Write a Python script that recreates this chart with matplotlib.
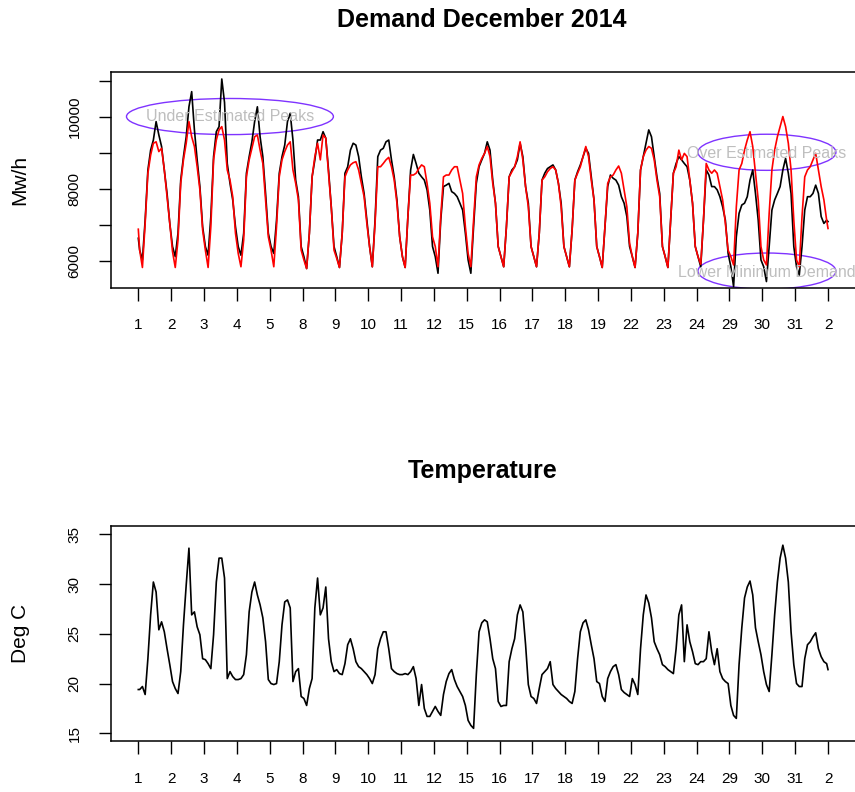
import numpy as np
import matplotlib
matplotlib.use("Agg")
import matplotlib.pyplot as plt
from matplotlib.patches import Ellipse

plt.rcParams['font.family'] = ['Liberation Sans', 'DejaVu Sans']

# trading days shown on the x axis (last tick = 2 Jan, end of the series)
day_labels = ['1', '2', '3', '4', '5', '8', '9', '10', '11', '12', '15', '16',
              '17', '18', '19', '22', '23', '24', '29', '30', '31', '2']

# values read every 2 hours (01:00, 03:00 ... 23:00) for each day
demand_start, demand_end = 6640, 7100
demand_actual = [
    [6310, 6040, 7140, 8530, 9080, 9360, 9870, 9500, 9180, 8530, 7880, 7050],
    [6410, 6130, 6780, 8250, 8900, 9450, 10280, 10700, 9640, 8810, 8070, 6960],
    [6410, 6170, 7240, 8900, 9590, 9730, 11050, 10400, 8710, 8160, 7700, 6960],
    [6410, 6170, 6780, 8440, 8900, 9310, 9870, 10280, 9450, 8900, 7880, 6780],
    [6410, 6220, 7140, 8440, 8900, 9220, 9870, 10100, 9360, 8250, 7790, 6410],
    [6130, 5800, 6780, 8340, 8810, 9360, 9360, 9590, 9410, 8530, 7510, 6410],
    [6130, 5830, 6780, 8440, 8620, 9080, 9270, 9220, 8900, 8340, 7880, 7140],
    [6410, 5850, 7140, 8900, 9080, 9130, 9310, 9360, 8810, 8340, 7700, 6680],
    [6130, 5830, 7240, 8530, 8960, 8710, 8440, 8340, 8250, 7980, 7420, 6410],
    [6130, 5670, 7140, 8070, 8110, 8160, 7930, 7880, 7790, 7610, 7420, 6780],
    [6040, 5670, 6960, 8160, 8620, 8810, 8990, 9310, 9080, 8250, 7610, 6410],
    [6130, 5850, 6960, 8340, 8530, 8620, 8810, 9270, 8900, 8070, 7610, 6410],
    [6130, 5850, 6780, 8250, 8440, 8570, 8620, 8670, 8530, 8160, 7610, 6410],
    [6130, 5850, 6870, 8250, 8480, 8670, 8900, 9130, 8990, 8340, 7700, 6410],
    [6130, 5830, 6960, 8070, 8390, 8300, 8250, 8110, 7790, 7610, 7240, 6410],
    [6130, 5830, 6780, 8530, 8900, 9270, 9640, 9450, 8900, 8340, 7880, 6410],
    [6130, 5830, 7140, 8440, 8710, 8900, 8810, 8710, 8620, 8250, 7610, 6410],
    [6130, 5850, 7140, 8530, 8390, 8070, 8070, 7980, 7790, 7510, 7140, 6220],
    [5850, 5300, 6680, 7330, 7560, 7610, 7790, 8250, 8530, 7880, 7140, 6040],
    [5850, 5440, 6410, 7420, 7700, 7880, 8070, 8530, 8850, 8440, 7880, 6410],
    [5850, 5620, 6410, 7420, 7790, 7790, 7880, 8110, 7880, 7240, 7050, 7140],
]

forecast_start, forecast_end = 6890, 6910
demand_forecast = [
    [6310, 5830, 7050, 8440, 8940, 9270, 9310, 9040, 9130, 8530, 7790, 7050],
    [6270, 5830, 6590, 8160, 8810, 9270, 9870, 9450, 9180, 8620, 7980, 6870],
    [6310, 5830, 6960, 8810, 9360, 9640, 9730, 9360, 8530, 8250, 7790, 6780],
    [6220, 5850, 6590, 8340, 8810, 9130, 9450, 9500, 9080, 8710, 7700, 6680],
    [6310, 5850, 6960, 8340, 8810, 9040, 9220, 9310, 8530, 8160, 7700, 6310],
    [6040, 5800, 6780, 8340, 8900, 9270, 8810, 9500, 9410, 8440, 7510, 6310],
    [6080, 5830, 6780, 8340, 8530, 8670, 8730, 8760, 8530, 8160, 7790, 7050],
    [6410, 5850, 7050, 8620, 8620, 8710, 8810, 8880, 8620, 8250, 7610, 6680],
    [6130, 5830, 7240, 8390, 8390, 8440, 8570, 8670, 8620, 8160, 7610, 6680],
    [6410, 5850, 7240, 8340, 8390, 8390, 8530, 8620, 8620, 8250, 7880, 6960],
    [6220, 5850, 7140, 8340, 8670, 8850, 8990, 9180, 8900, 8160, 7610, 6410],
    [6130, 5850, 6960, 8340, 8480, 8620, 8900, 9310, 8810, 8070, 7510, 6410],
    [6130, 5850, 6780, 8250, 8340, 8480, 8570, 8620, 8530, 8160, 7510, 6410],
    [6130, 5850, 6870, 8250, 8440, 8620, 8900, 9180, 8900, 8250, 7700, 6410],
    [6130, 5830, 6960, 8160, 8340, 8390, 8530, 8640, 8440, 7980, 7510, 6500],
    [6130, 5830, 6780, 8530, 8900, 9080, 9180, 9130, 8810, 8250, 7790, 6410],
    [6130, 5830, 7140, 8440, 8620, 9080, 8810, 8990, 8900, 8250, 7610, 6410],
    [6130, 5920, 7140, 8710, 8530, 8440, 8530, 8440, 8070, 7700, 7050, 6310],
    [6130, 5900, 7510, 8530, 8710, 9080, 9360, 9590, 9180, 8440, 7700, 6410],
    [6040, 5900, 7330, 8530, 9080, 9450, 9730, 10010, 9730, 9270, 8530, 7140],
    [6040, 5850, 7240, 8340, 8530, 8620, 8810, 8990, 8530, 8070, 7700, 7140],
]

temp_start, temp_end = 19.4, 21.4
temperature = [
    [19.4, 19.7, 18.9, 22.5, 26.9, 30.2, 29.2, 25.4, 26.2, 25.2, 23.5, 21.9],
    [20.2, 19.5, 19.0, 21.2, 25.9, 29.9, 33.6, 26.9, 27.2, 25.7, 24.9, 22.5],
    [22.4, 22.0, 21.5, 24.9, 30.2, 32.6, 32.6, 30.6, 20.5, 21.2, 20.7, 20.4],
    [20.4, 20.5, 20.9, 22.9, 27.2, 29.2, 30.2, 28.9, 27.9, 26.6, 24.2, 20.4],
    [20.0, 19.9, 20.0, 22.2, 25.9, 28.2, 28.4, 27.6, 20.2, 21.2, 21.5, 18.7],
    [18.5, 17.8, 19.5, 20.5, 27.6, 30.6, 26.9, 27.6, 29.7, 24.5, 22.2, 21.2],
    [21.4, 21.0, 20.9, 22.0, 23.9, 24.5, 23.5, 22.2, 21.7, 21.5, 21.2, 20.9],
    [20.5, 20.0, 20.9, 23.5, 24.5, 25.2, 25.2, 23.5, 21.5, 21.2, 21.0, 20.9],
    [20.9, 21.0, 20.9, 21.2, 21.7, 20.5, 17.8, 19.9, 17.5, 16.7, 16.7, 17.2],
    [17.7, 17.2, 16.8, 18.9, 20.2, 21.0, 21.4, 20.4, 19.7, 19.2, 18.7, 17.8],
    [16.3, 15.8, 15.5, 20.9, 25.2, 26.1, 26.4, 26.2, 24.5, 22.5, 21.5, 18.2],
    [17.7, 17.8, 17.8, 22.2, 23.5, 24.5, 26.9, 27.9, 27.2, 23.9, 19.9, 18.7],
    [18.5, 18.0, 19.5, 20.9, 21.2, 21.5, 22.2, 19.9, 19.5, 19.2, 18.9, 18.7],
    [18.5, 18.2, 18.0, 19.2, 22.5, 25.2, 26.1, 26.4, 25.4, 23.9, 22.5, 20.2],
    [20.0, 18.7, 18.2, 20.5, 21.2, 21.7, 21.9, 20.9, 19.4, 19.1, 18.9, 18.7],
    [20.5, 19.9, 18.9, 23.5, 26.9, 28.9, 28.1, 26.6, 24.2, 23.5, 22.9, 21.9],
    [21.7, 21.4, 21.2, 21.0, 23.5, 26.9, 27.9, 22.2, 25.9, 24.2, 23.2, 22.0],
    [21.9, 22.2, 22.2, 22.5, 25.2, 23.2, 21.9, 23.5, 21.2, 20.5, 20.2, 20.0],
    [17.8, 16.8, 16.5, 21.9, 25.6, 28.6, 29.7, 30.3, 28.9, 25.6, 24.2, 22.9],
    [21.2, 19.9, 19.2, 22.9, 26.9, 30.2, 32.6, 33.9, 32.6, 30.2, 25.2, 21.9],
    [20.0, 19.7, 19.7, 22.5, 23.9, 24.2, 24.7, 25.1, 23.5, 22.7, 22.2, 22.0],
]

hours = np.arange(1, 24, 2)


def build_series(start, daily, end):
    # time axis in days, one point every two hours
    t = [0.0]
    v = [start]
    for d, vals in enumerate(daily):
        t.extend(d + hours / 24.0)
        v.extend(vals)
    t.append(len(daily))
    v.append(end)
    return np.array(t), np.array(v, dtype=float)


t_act, y_act = build_series(demand_start, demand_actual, demand_end)
t_fc, y_fc = build_series(forecast_start, demand_forecast, forecast_end)
t_tmp, y_tmp = build_series(temp_start, temperature, temp_end)

tick_pos = np.arange(len(day_labels))

fig = plt.figure(figsize=(8.55, 7.92), dpi=100)
ax1 = fig.add_axes([0.1295, 0.6367, 0.8712, 0.2720])
ax2 = fig.add_axes([0.1295, 0.0644, 0.8712, 0.2715])


def style_axis(ax):
    for s in ax.spines.values():
        s.set_linewidth(1.1)
    ax.set_xlim(-0.84, 21.84)
    ax.set_xticks(tick_pos)
    ax.set_xticklabels(day_labels)
    ax.tick_params(axis='both', length=9, width=1.0, labelsize=11)
    ax.tick_params(axis='x', pad=13)
    ax.tick_params(axis='y', pad=12, labelrotation=90)
    for lab in ax.get_yticklabels():
        lab.set_va('center')


# ---- demand panel ----
ax1.plot(t_act, y_act, color='black', lw=1.2)
ax1.plot(t_fc, y_fc, color='red', lw=1.2)
ax1.set_ylim(5269, 11235)
ax1.set_yticks([6000, 7000, 8000, 9000, 10000, 11000])
ax1.set_yticklabels(['6000', '', '8000', '', '10000', ''])
style_axis(ax1)

ell_color = '#7F33FF'
ell_specs = [
    (2.79, 10010, 6.3, 1000, 'Under Estimated Peaks', 10000),
    (19.14, 9020, 4.2, 1000, 'Over Estimated Peaks', 8990),
    (19.14, 5730, 4.2, 1000, 'Lower Minimum Demand', 5700),
]
for cx, cy, w, h, txt, ty in ell_specs:
    ax1.add_patch(Ellipse((cx, cy), w, h, fill=False, edgecolor=ell_color,
                          lw=1.0))
    ax1.text(cx, ty, txt, color='#BEBEBE', fontsize=11.5, ha='center',
             va='center', clip_on=False)

fig.text(0.5640, 0.9663, 'Demand December 2014', ha='center', va='baseline',
         fontsize=18, fontweight='bold')
fig.text(20 / 855, 0.7727, 'Mw/h', rotation=90, ha='center', va='center',
         fontsize=15)

# ---- temperature panel ----
ax2.plot(t_tmp, y_tmp, color='black', lw=1.2)
ax2.set_ylim(14.23, 35.83)
ax2.set_yticks([15, 20, 25, 30, 35])
style_axis(ax2)

fig.text(0.5640, 0.3961, 'Temperature', ha='center', va='baseline',
         fontsize=18, fontweight='bold')
fig.text(20 / 855, 0.2001, 'Deg C', rotation=90, ha='center', va='center',
         fontsize=15)

fig.savefig('out.png', dpi=100)
